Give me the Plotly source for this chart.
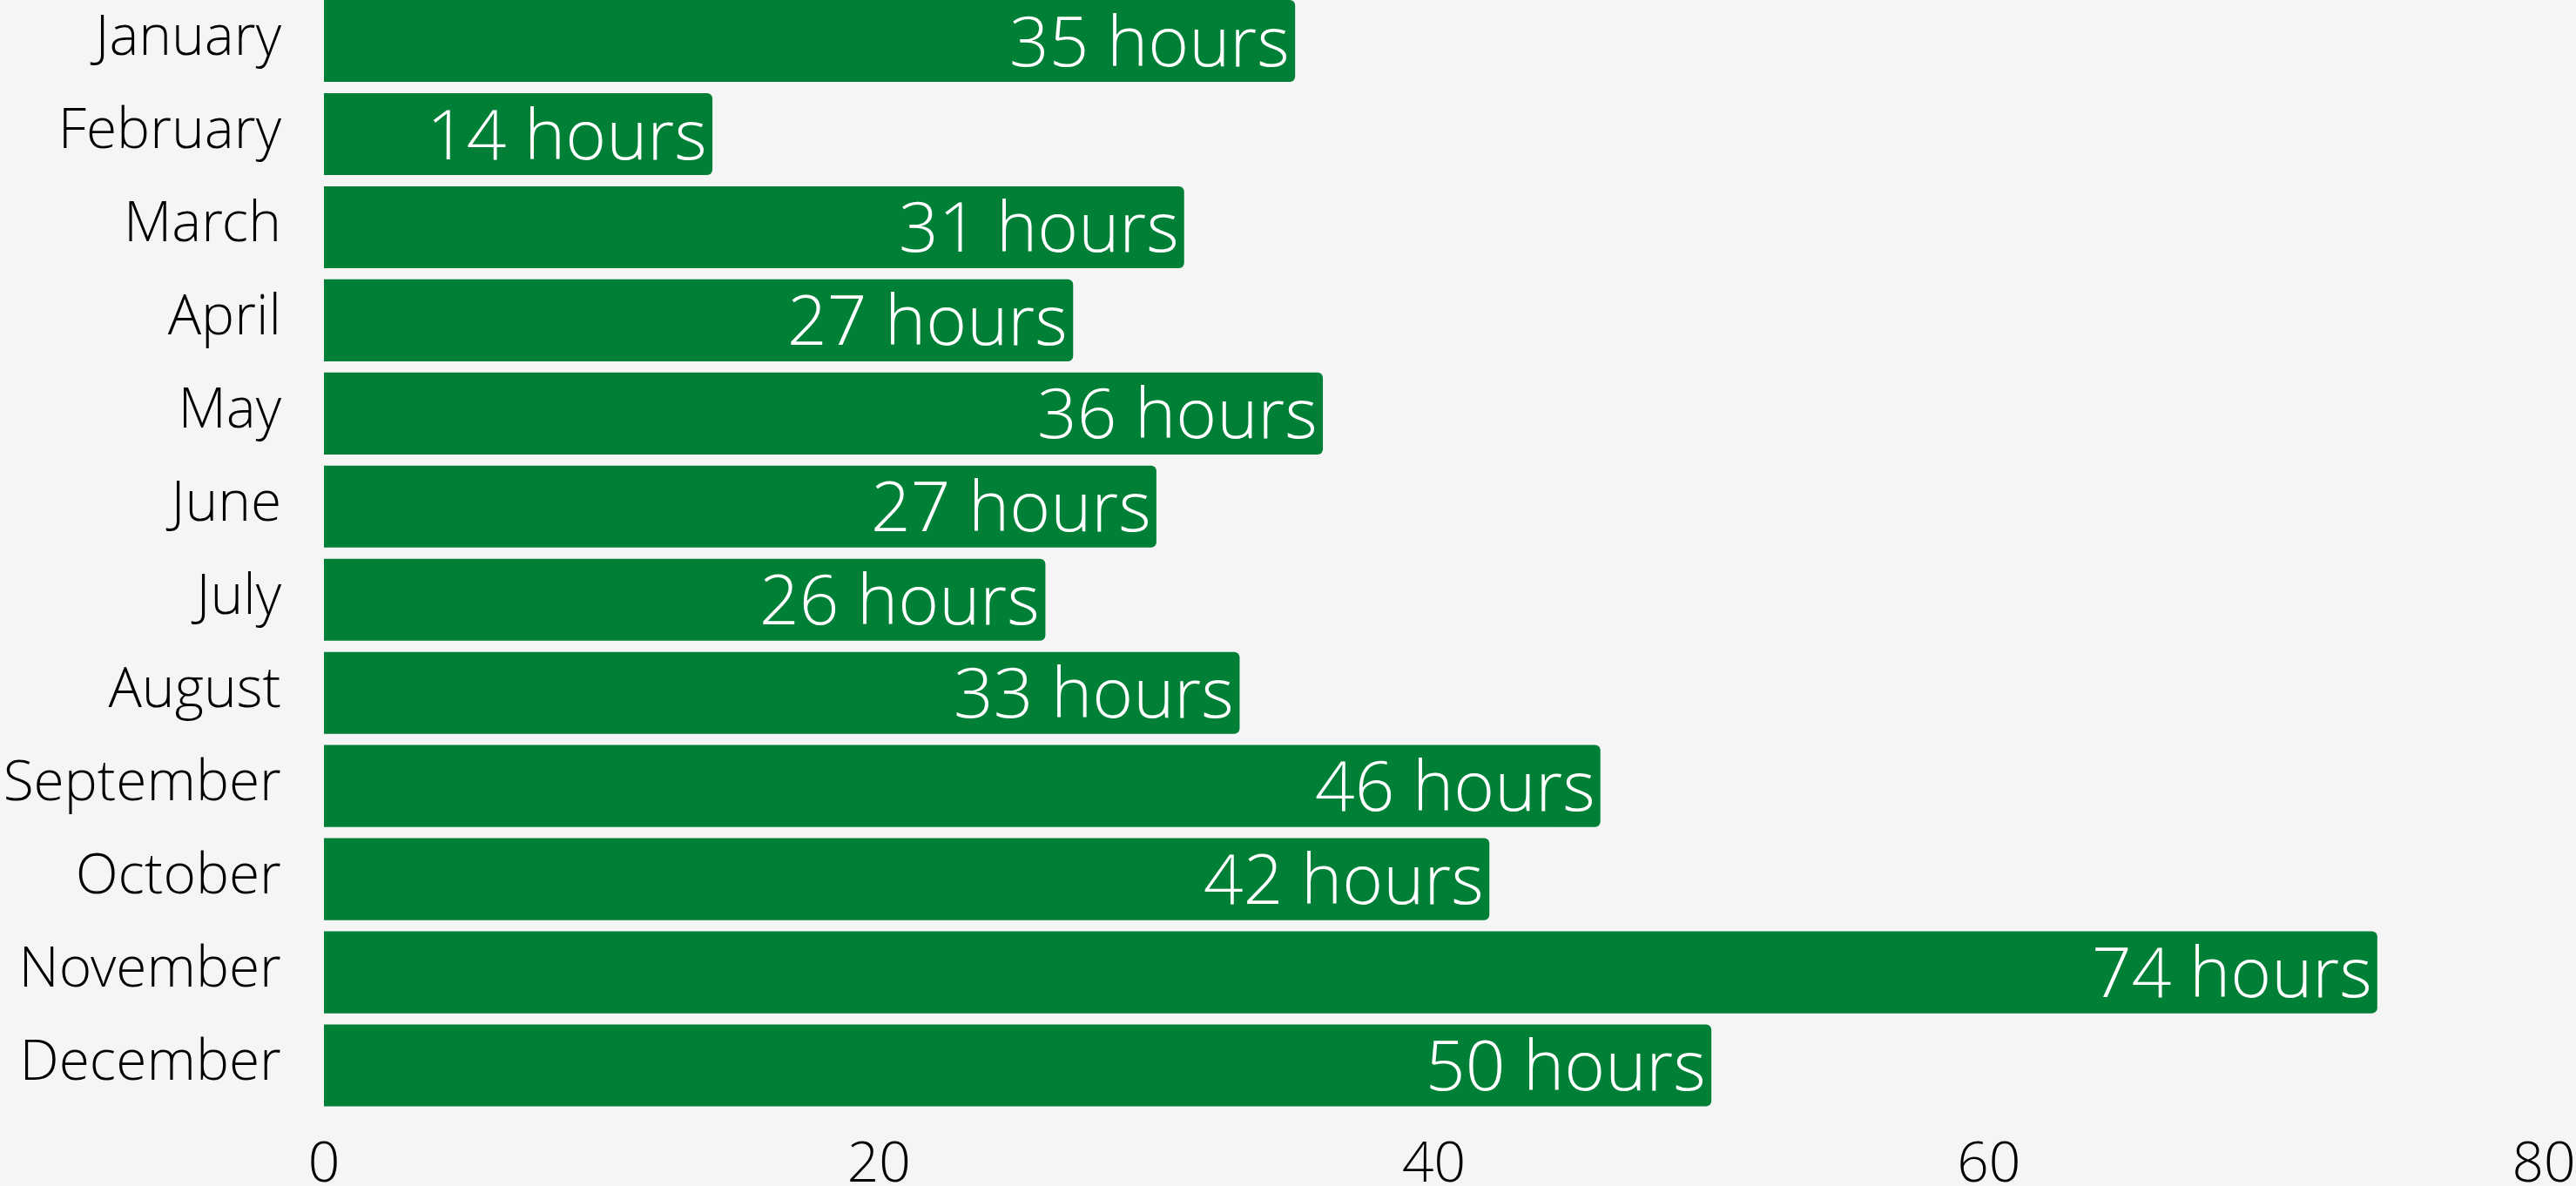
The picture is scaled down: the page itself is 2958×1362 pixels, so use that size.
import plotly.graph_objects as go

months = ["January", "February", "March", "April", "May", "June",
          "July", "August", "September", "October", "November", "December"]
hours = [35, 14, 31, 27, 36, 30, 26, 33, 46, 42, 74, 50]
labels = ["35 hours", "14 hours", "31 hours", "27 hours", "36 hours", "27 hours",
          "26 hours", "33 hours", "46 hours", "42 hours", "74 hours", "50 hours"]
x_ticks = [0, 20, 40, 60, 80]

FONT = "Open Sans Light, Open Sans"

fig = go.Figure(
    go.Bar(
        x=hours,
        y=months,
        orientation="h",
        marker=dict(color="#008037", line=dict(width=0)),
        hoverinfo="skip",
    )
)

# bar labels as annotations so plotly does not shrink them to the bar height
for month, value, label in zip(months, hours, labels):
    fig.add_annotation(
        x=value, y=month, text=label,
        xanchor="right", yanchor="middle",
        xshift=-4, yshift=3,
        showarrow=False,
        font=dict(family=FONT, size=80, color="white", weight=300),
    )

fig.update_layout(
    width=2958,
    height=1362,
    margin=dict(l=372, r=37, t=0, b=85),
    paper_bgcolor="#f5f5f5",
    plot_bgcolor="#f5f5f5",
    bargap=0.12,
    barcornerradius=6,
    showlegend=False,
    font=dict(family=FONT, size=64, color="black", weight=300),
)

fig.update_xaxes(
    range=[0, 80],
    tickvals=x_ticks,
    showgrid=False,
    zeroline=False,
    showline=False,
    ticks="",
    automargin=False,
    ticklabelstandoff=15,
    tickfont=dict(family=FONT, size=64, color="black", weight=300),
)

fig.update_yaxes(
    categoryorder="array",
    categoryarray=months,
    range=[11.5, -0.44],
    showgrid=False,
    zeroline=False,
    showline=False,
    ticks="",
    automargin=False,
    ticklabelstandoff=48,
    ticklabelshift=6,
    tickfont=dict(family=FONT, size=64, color="black", weight=300),
)

# the page's default body margin would push the figure off the window
fig.write_html("out.html", config={"displayModeBar": False},
               post_script="document.body.style.margin = '0';")
